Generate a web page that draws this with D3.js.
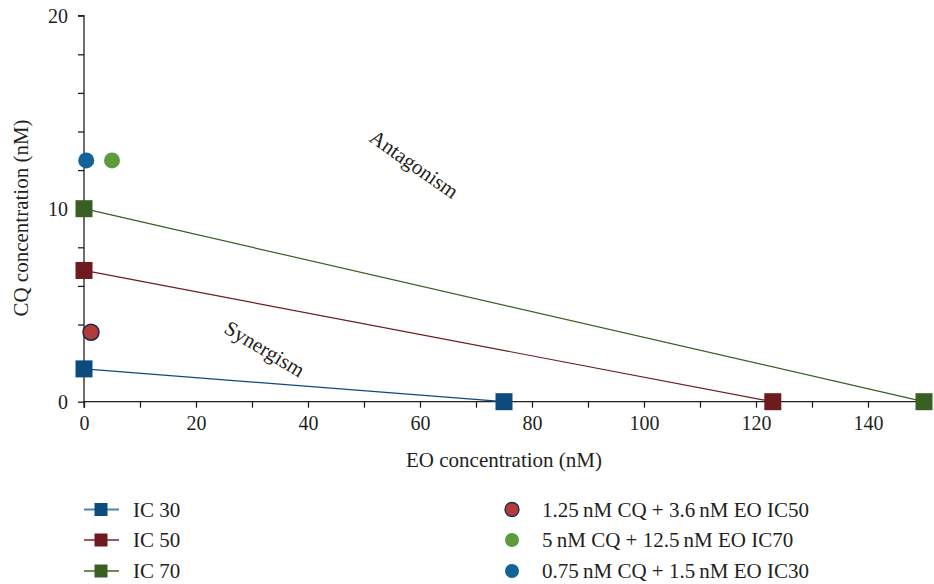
<!DOCTYPE html>
<html><head><meta charset="utf-8">
<script src="https://cdn.jsdelivr.net/npm/d3@7"></script>
<style>body{margin:0;background:#fff}svg{display:block}text{font-family:"Liberation Serif","DejaVu Serif",serif;fill:#231f20}</style>
</head><body><svg id="c" width="934" height="584"></svg>
<script>
const seriesNames = ["IC 30", "IC 50", "IC 70"];
const seriesEO = [[0, 75], [0, 123], [0, 150]];
const seriesCQ = [[1.7, 0], [6.8, 0], [10, 0]];
const seriesColors = ["#0d4a7e", "#6e1b20", "#3a5f22"];
const legendLineColors = ["#4f82b0", "#a2575b", "#6a8f50"];
const pointNames = ["1.25\u2009nM CQ + 3.6\u2009nM EO IC50", "5\u2009nM CQ + 12.5\u2009nM EO IC70", "0.75\u2009nM CQ + 1.5\u2009nM EO IC30"];
const pointEO = [1.25, 5, 0.4];
const pointCQ = [3.6, 12.5, 12.5];
const pointColors = ["#b13c3c", "#5f9b3d", "#11639a"];
const pointStroke = ["#1b2a4a", "none", "none"];
const xTickLabels = [0, 20, 40, 60, 80, 100, 120, 140];
const yTickLabels = [0, 10, 20];

const FONT = '"Liberation Serif","DejaVu Serif",serif';
const svg = d3.select("#c");
const x = d3.scaleLinear().domain([0, 150]).range([84, 924]);
const y = d3.scaleLinear().domain([0, 20]).range([401.7, 15.7]);

// axes
const xAxis = d3.axisBottom(x).tickValues(d3.range(0, 151, 10)).tickSize(6).tickPadding(8)
  .tickFormat(d => xTickLabels.includes(d) ? d : "");
const gx = svg.append("g").attr("transform", `translate(0,${y(0)})`).call(xAxis);
gx.select(".domain").attr("d", `M${x(0)},6V0H930`);
const yAxis = d3.axisLeft(y).tickValues(d3.range(0, 21, 2)).tickSize(6).tickPadding(10)
  .tickFormat(d => yTickLabels.includes(d) ? d : "");
const gy = svg.append("g").attr("transform", `translate(${x(0)},0)`).call(yAxis);
gy.select(".domain").attr("d", `M-6,${y(20)}H0V${y(0)}`);
[gx, gy].forEach(g => {
  g.attr("font-family", FONT).attr("font-size", 20);
  g.selectAll("line,path").attr("stroke", "#231f20").attr("stroke-width", 1.3);
  g.selectAll("text").attr("fill", "#231f20").style("font-family", FONT).style("font-size", "20px");
});

svg.append("text").attr("x", 504).attr("y", 467).attr("text-anchor", "middle")
  .style("font-size", "21px").text("EO concentration (nM)");
svg.append("text").attr("transform", "translate(28,218) rotate(-90)").attr("text-anchor", "middle")
  .style("font-size", "21px").text("CQ concentration (nM)");

// annotations
svg.append("text").attr("transform", "translate(410,170) rotate(35)").attr("text-anchor", "middle")
  .style("font-size", "21px").text("Antagonism");
svg.append("text").attr("transform", "translate(261,355) rotate(31)").attr("text-anchor", "middle")
  .style("font-size", "21px").text("Synergism");

// lines + squares
const line = d3.line().x(d => x(d[0])).y(d => y(d[1]));
seriesNames.forEach((n, i) => {
  const pts = seriesEO[i].map((e, j) => [e, seriesCQ[i][j]]);
  svg.append("path").attr("d", line(pts)).attr("fill", "none")
    .attr("stroke", seriesColors[i]).attr("stroke-width", 1.2);
  svg.selectAll(null).data(pts).enter().append("rect")
    .attr("x", d => x(d[0]) - 8.5).attr("y", d => y(d[1]) - 8.5)
    .attr("width", 17).attr("height", 17).attr("fill", seriesColors[i]);
});

// points
pointNames.forEach((n, i) => {
  svg.append("circle").attr("cx", x(pointEO[i])).attr("cy", y(pointCQ[i])).attr("r", 8)
    .attr("fill", pointColors[i]).attr("stroke", pointStroke[i]).attr("stroke-width", 1.5);
});

// legend
const ly = [509.5, 540, 571];
seriesNames.forEach((n, i) => {
  const g = svg.append("g").attr("transform", `translate(0,${ly[i]})`);
  g.append("line").attr("x1", 84).attr("x2", 119).attr("stroke", legendLineColors[i]).attr("stroke-width", 2);
  g.append("rect").attr("x", 94.5).attr("y", -6.5).attr("width", 13).attr("height", 13).attr("fill", seriesColors[i]);
  g.append("text").attr("x", 133).attr("y", 7).style("font-size", "21px").text(n);
});
pointNames.forEach((n, i) => {
  const g = svg.append("g").attr("transform", `translate(0,${ly[i]})`);
  g.append("circle").attr("cx", 512).attr("cy", 0).attr("r", 7)
    .attr("fill", pointColors[i]).attr("stroke", pointStroke[i]).attr("stroke-width", 1.3);
  g.append("text").attr("x", 542).attr("y", 7).style("font-size", "21px").text(n);
});
</script></body></html>
